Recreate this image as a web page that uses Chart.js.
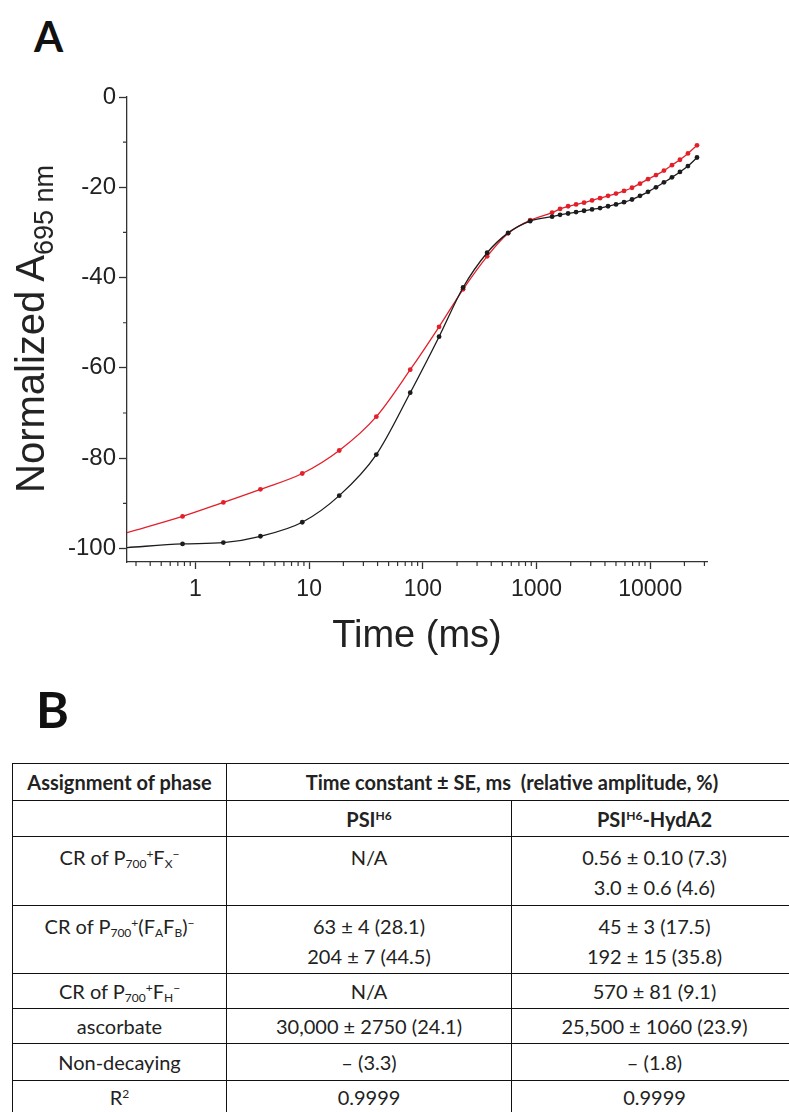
<!DOCTYPE html>
<html><head><meta charset="utf-8">
<script src="https://cdn.jsdelivr.net/npm/chart.js@4.4.1/dist/chart.umd.min.js"></script>
<style>
html,body{margin:0;padding:0;background:#fff;}
body{width:789px;height:1112px;position:relative;overflow:hidden;font-family:Lato,'Liberation Sans',sans-serif;}
.panel{position:absolute;font-family:Lato,sans-serif;font-weight:700;color:#111;line-height:1;}
#pA{left:34px;top:15px;font-size:42px;}
#pB{left:36px;top:684px;font-size:50px;}
#chartBox{position:absolute;left:0;top:0;width:789px;height:665px;}
#ytitle{position:absolute;left:30px;top:329px;transform:translate(-50%,-50%) rotate(-90deg);white-space:nowrap;font-family:'Liberation Sans',Arial,sans-serif;font-size:40px;line-height:44px;color:#222;}
#ytitle sub{font-size:27px;vertical-align:-9px;line-height:0;}
table{position:absolute;left:12px;top:763px;border-collapse:collapse;table-layout:fixed;width:785px;font-size:20px;color:#222;font-family:Lato,sans-serif;}
td{border:1.5px solid #111;text-align:center;padding:0;vertical-align:middle;line-height:24px;}
td.top{vertical-align:top;padding-top:5px;line-height:30px;}
td sub{font-size:12px;vertical-align:-3px;line-height:0;}
td sup{font-size:12px;vertical-align:7px;line-height:0;}
</style>
</head>
<body>
<div id="pA" class="panel">A</div>
<div id="chartBox"><canvas id="c" width="789" height="665"></canvas></div>
<div id="ytitle">Normalized A<sub>695 nm</sub></div>
<div id="pB" class="panel">B</div>
<table id="tbl"></table>
<script>
// ---- Chart data ----
const times = [0.77, 1.76, 3.73, 8.7, 18.4, 39, 77.5, 139, 226, 368, 563, 879, 1371, 1611, 1896, 2229, 2620, 3080, 3622, 4258, 5006, 5885, 6919, 8134, 9563, 11243, 13218, 15540, 18269, 21478, 25800];
const psiH6Values = [-99.0, -98.7, -97.3, -94.2, -88.3, -79.2, -65.5, -53.1, -42.2, -34.5, -30.1, -27.5, -26.5, -26.1, -25.8, -25.5, -25.2, -24.9, -24.6, -24.2, -23.8, -23.3, -22.7, -21.9, -21.0, -20.0, -18.9, -17.8, -16.6, -15.3, -13.4];
const hydA2Values = [-92.9, -89.8, -86.9, -83.4, -78.3, -70.8, -60.4, -50.9, -42.6, -35.3, -30.2, -27.3, -25.6, -24.8, -24.2, -23.8, -23.4, -22.9, -22.4, -21.9, -21.4, -20.8, -20.1, -19.2, -18.2, -17.3, -16.3, -15.1, -13.9, -12.5, -10.7];
const fitStartTime = 0.25;
const psiH6FitStart = -99.8;
const hydA2FitStart = -96.5;
const xTickValues = [1, 10, 100, 1000, 10000];
const xTickLabels = ['1', '10', '100', '1000', '10000'];
const yTickValues = [0, -20, -40, -60, -80, -100];
const yTickLabels = ['0', '-20', '-40', '-60', '-80', '-100'];
const yMinorValues = [-10, -30, -50, -70, -90];

// ---- Table data ----
const headerRow1 = ['Assignment of phase', 'Time constant ± SE, ms&nbsp; (relative amplitude, %)'];
const headerRow2 = ['', 'PSI<sup>H6</sup>', 'PSI<sup>H6</sup>-HydA2'];
const phaseLabels = ['CR of P<sub>700</sub><sup>+</sup>F<sub>X</sub><sup>−</sup>', 'CR of P<sub>700</sub><sup>+</sup>(F<sub>A</sub>F<sub>B</sub>)<sup>−</sup>', 'CR of P<sub>700</sub><sup>+</sup>F<sub>H</sub><sup>−</sup>', 'ascorbate', 'Non-decaying', 'R<sup>2</sup>'];
const psiH6Cells = [['N/A'], ['63 ± 4 (28.1)', '204 ± 7 (44.5)'], ['N/A'], ['30,000 ± 2750 (24.1)'], ['– (3.3)'], ['0.9999']];
const hydA2Cells = [['0.56 ± 0.10 (7.3)', '3.0 ± 0.6 (4.6)'], ['45 ± 3 (17.5)', '192 ± 15 (35.8)'], ['570 ± 81 (9.1)'], ['25,500 ± 1060 (23.9)'], ['– (1.8)'], ['0.9999']];
const rowHeights = [37, 36, 69, 68, 35, 35, 37, 33];

// build table
(function(){
  const t = document.getElementById('tbl');
  let h = '<colgroup><col style="width:214px"><col style="width:285px"><col style="width:286px"></colgroup>';
  h += '<tr style="height:'+rowHeights[0]+'px"><td><b>'+headerRow1[0]+'</b></td><td colspan="2"><b>'+headerRow1[1]+'</b></td></tr>';
  h += '<tr style="height:'+rowHeights[1]+'px">'+headerRow2.map(s=>'<td><b>'+s+'</b></td>').join('')+'</tr>';
  phaseLabels.forEach((p,i)=>{
    const multi = psiH6Cells[i].length>1 || hydA2Cells[i].length>1;
    const cls = multi ? ' class="top"' : '';
    h += '<tr style="height:'+rowHeights[i+2]+'px"><td'+cls+'>'+p+'</td><td'+cls+'>'+psiH6Cells[i].join('<br>')+'</td><td'+cls+'>'+hydA2Cells[i].join('<br>')+'</td></tr>';
  });
  t.innerHTML = h;
})();

// ---- Chart ----
const AX = '#333';
const FF = "'Liberation Sans', Arial, sans-serif";
const BLACK = '#1c1c1c';
const RED = '#e3202a';

const xMinorValues = [];
for (let d = -1; d <= 4; d++) {
  for (let m = 2; m <= 9; m++) {
    const v = m * Math.pow(10, d);
    if (v >= fitStartTime && v <= 31600) xMinorValues.push(v);
  }
}

const minorTicks = {
  id: 'minorTicks',
  afterDraw(chart) {
    const {ctx, scales: {x, y}} = chart;
    ctx.save();
    ctx.strokeStyle = AX;
    ctx.lineWidth = 1.2;
    ctx.beginPath();
    yMinorValues.forEach(v => {
      const py = y.getPixelForValue(v);
      ctx.moveTo(y.right - 4, py); ctx.lineTo(y.right, py);
    });
    xMinorValues.forEach(v => {
      const px = x.getPixelForValue(v);
      ctx.moveTo(px, x.top); ctx.lineTo(px, x.top + 4);
    });
    ctx.stroke();
    ctx.restore();
  }
};

function series(start, vals) {
  return [{x: fitStartTime, y: start}].concat(times.map((t, i) => ({x: t, y: vals[i]})));
}

new Chart(document.getElementById('c'), {
  type: 'line',
  data: {
    datasets: [
      {
        label: 'PSI H6',
        data: series(psiH6FitStart, psiH6Values),
        borderColor: BLACK, backgroundColor: BLACK, borderWidth: 1.3,
        pointRadius: c => c.dataIndex === 0 ? 0 : 2.4, pointBorderWidth: 0,
        cubicInterpolationMode: 'monotone', fill: false
      },
      {
        label: 'PSI H6-HydA2',
        data: series(hydA2FitStart, hydA2Values),
        borderColor: RED, backgroundColor: RED, borderWidth: 1.3,
        pointRadius: c => c.dataIndex === 0 ? 0 : 2.4, pointBorderWidth: 0,
        cubicInterpolationMode: 'monotone', fill: false
      }
    ]
  },
  options: {
    responsive: false, devicePixelRatio: 1, animation: false,
    layout: {padding: {left: 0, top: 97, right: 82, bottom: 0}},
    plugins: {legend: {display: false}, tooltip: {enabled: false}},
    scales: {
      x: {
        type: 'logarithmic', position: 'bottom', min: fitStartTime, max: 31600,
        afterFit(s) { s.height = 103; },
        afterBuildTicks(s) { s.ticks = xTickValues.map(v => ({value: v})); },
        grid: {drawOnChartArea: false, drawTicks: true, tickLength: 7, tickColor: AX, tickWidth: 1.3},
        border: {display: true, color: AX, width: 1.3},
        ticks: {autoSkip: false, maxRotation: 0, padding: 7, color: '#222', font: {family: FF, size: 23},
          callback: (v, i) => xTickLabels[i]},
        title: {display: true, text: 'Time (ms)', color: '#222', font: {family: FF, size: 38}, padding: {top: 0, bottom: 6}}
      },
      y: {
        type: 'linear', position: 'left', min: -103, max: 0,
        afterFit(s) { s.width = 127; },
        afterBuildTicks(s) { s.ticks = yTickValues.map(v => ({value: v})); },
        grid: {drawOnChartArea: false, drawTicks: true, tickLength: 8, tickColor: AX, tickWidth: 1.3},
        border: {display: true, color: AX, width: 1.3},
        ticks: {padding: 3, color: '#222', font: {family: FF, size: 24}, callback: (v, i) => yTickLabels[i]}
      }
    }
  },
  plugins: [minorTicks]
});
</script>
</body></html>
